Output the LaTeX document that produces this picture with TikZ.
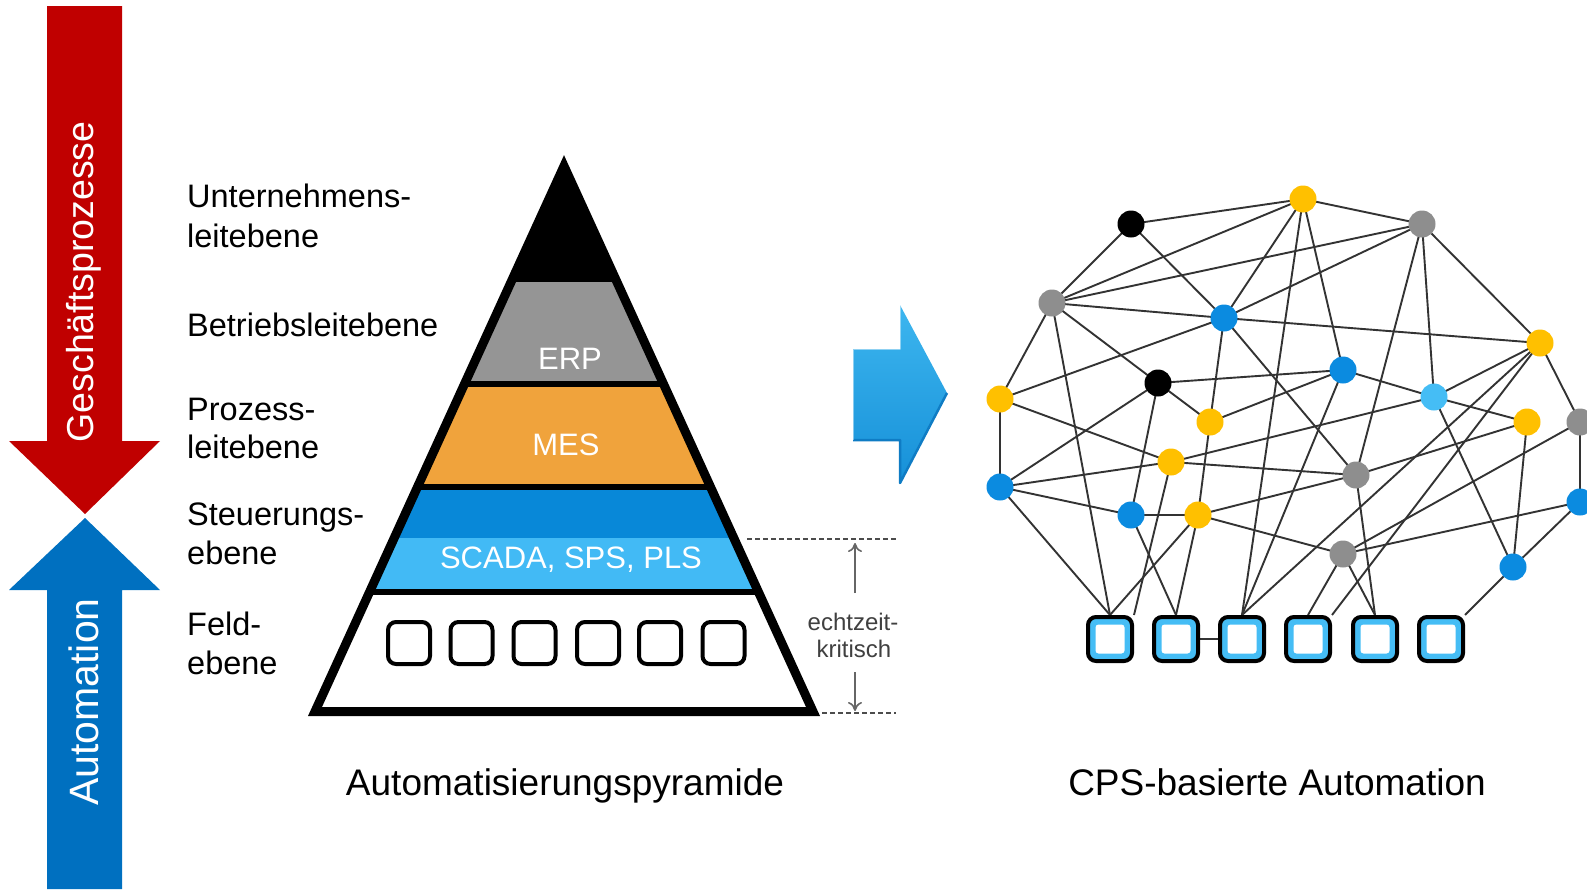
\documentclass[tikz,border=0pt]{standalone}
\usepackage{fontspec}
\setmainfont{Liberation Sans}
\usetikzlibrary{arrows.meta}
\pgfdeclarelayer{bg}
\pgfsetlayers{bg,main}
\definecolor{redA}{HTML}{C00000}
\definecolor{blueA}{HTML}{0070C0}
\definecolor{pgray}{HTML}{959595}
\definecolor{porange}{HTML}{F0A33C}
\definecolor{pdblue}{HTML}{0888D8}
\definecolor{plblue}{HTML}{42BAF5}
\definecolor{nyel}{HTML}{FFC000}
\definecolor{ngray}{HTML}{8E8E8E}
\definecolor{nblue}{HTML}{0B8BE0}
\definecolor{nlblue}{HTML}{45BDF5}
\definecolor{echt}{HTML}{404040}
\definecolor{arrL}{HTML}{3DB6EF}
\definecolor{arrD}{HTML}{1690D8}
\definecolor{arrE}{HTML}{0F7CC4}
\tikzset{
  lbl/.style={anchor=base west, inner sep=0, font=\fontsize{32.5}{39}\selectfont},
  band/.style={anchor=base, inner sep=0, text=white, font=\fontsize{31}{36}\selectfont},
  captxt/.style={anchor=base, inner sep=0, font=\fontsize{37}{42}\selectfont},
  vert/.style={rotate=90, text=white, inner sep=0},
  fbox/.style={draw=black, line width=4, fill=white, rounded corners=8, minimum size=42, inner sep=0},
  nd/.style={circle, minimum size=27, inner sep=0},
  sqo/.style={draw=black, line width=4, fill=nlblue, rounded corners=8, minimum size=44, inner sep=0},
  sqi/.style={fill=white, rounded corners=3, minimum size=29, inner sep=0},
  edge/.style={draw=black!80, line width=1.9},
  dash line/.style={draw=black!70, dashed, dash pattern=on 5pt off 3pt, line width=1.6},
  rt/.style={draw=black!60, line width=1.6, -{To[length=9pt,width=14pt]}},
  echtxt/.style={anchor=base, inner sep=0, text=echt, font=\fontsize{24}{28}\selectfont}
}
\begin{document}
\begin{tikzpicture}[x=1pt,y=-1pt]
\path[use as bounding box] (0,0) rectangle (1587,889);
\begin{pgfonlayer}{bg}
\fill[white] (0,0) rectangle (1587,889);
\end{pgfonlayer}
\clip (0,0) rectangle (1587,889);

% left arrows
\fill[redA] (47,6) -- (122,6) -- (122,441) -- (160,441) -- (85,514) -- (9,441) -- (47,441) -- cycle;
\fill[blueA] (85,518) -- (160,590) -- (122,590) -- (122,889) -- (47,889) -- (47,590) -- (9,590) -- cycle;
\node[vert, font=\fontsize{37.5}{40}\selectfont] (gp) at (84,282) {Geschäftsprozesse};
\node[vert, font=\fontsize{41}{44}\selectfont] (au) at (84,702) {Automation};

% pyramid
\begin{scope}
  \clip (564,166) -- (813,711.5) -- (315,711.5) -- cycle;
  \fill[black] (290,140) rectangle (840,282);
  \fill[pgray] (290,282) rectangle (840,384);
  \fill[porange] (290,384) rectangle (840,487);
  \fill[pdblue] (290,487) rectangle (840,538);
  \fill[plblue] (290,538) rectangle (840,592);
  \fill[white] (290,592) rectangle (840,712);
  \draw[line width=6] (290,384) -- (840,384);
  \draw[line width=6] (290,487) -- (840,487);
  \draw[line width=6] (290,592) -- (840,592);
\end{scope}
\draw[line width=9, line join=miter] (564,166) -- (813,711.5) -- (315,711.5) -- cycle;
\node[band] (erp) at (570,369) {ERP};
\node[band] (mes) at (566,455) {MES};
\node[band] (scada) at (571,568) {SCADA, SPS, PLS};
\foreach \i/\x in {1/409,2/471.5,3/534.5,4/598,5/660,6/723.5}
  \node[fbox] (f\i) at (\x,643) {};

% level labels
\node[lbl] (l1a) at (187,207.5) {Unternehmens-};
\node[lbl] (l1b) at (187,247) {leitebene};
\node[lbl] (l2) at (187,336) {Betriebsleitebene};
\node[lbl] (l3a) at (187,420) {Prozess-};
\node[lbl] (l3b) at (187,458) {leitebene};
\node[lbl] (l4a) at (187,525) {Steuerungs-};
\node[lbl] (l4b) at (187,564) {ebene};
\node[lbl] (l5a) at (187,635.5) {Feld-};
\node[lbl] (l5b) at (187,674) {ebene};

% echtzeitkritisch
\coordinate (d1a) at (747,539);
\coordinate (d1b) at (896,539);
\coordinate (d2a) at (822,713);
\coordinate (d2b) at (896,713);
\draw[dash line] (d1a) -- (d1b);
\draw[dash line] (d2a) -- (d2b);
\node[echtxt] (e1) at (853,630) {echtzeit-};
\node[echtxt] (e2) at (854,657) {kritisch};
\coordinate (u0) at (855,593);
\coordinate (u1) at (855,543);
\coordinate (w0) at (855,672);
\coordinate (w1) at (855,711);
\draw[rt] (u0) -- (u1);
\draw[rt] (w0) -- (w1);

% captions
\node[captxt] (c1) at (565,795) {Automatisierungspyramide};
\node[captxt] (c2) at (1277,795) {CPS-basierte Automation};

% middle arrow
\shade[top color=arrL, bottom color=arrD]
  (853,349) -- (900,349) -- (900,305) -- (947,393) -- (900,483) -- (900,440) -- (853,440) -- cycle;
\draw[arrE, line width=2.5, line join=round] (853,440) -- (900,440) -- (900,483) -- (947,393);
\draw[white, opacity=0.45, line width=2.5, line join=round] (853,440) -- (853,349) -- (900,349) -- (900,305);

% network nodes
\node[nd, fill=black] (B1) at (1131,224) {};
\node[nd, fill=ngray] (G1) at (1052,303) {};
\node[nd, fill=nblue] (C1) at (1224,318) {};
\node[nd, fill=black] (B2) at (1158,383) {};
\node[nd, fill=nyel] (Y1) at (1000,399) {};
\node[nd, fill=nyel] (Y2) at (1210,422) {};
\node[nd, fill=nyel] (Y3) at (1171,462) {};
\node[nd, fill=nyel] (Y4) at (1303,199) {};
\node[nd, fill=ngray] (G2) at (1422,224) {};
\node[nd, fill=nyel] (Y5) at (1540,343) {};
\node[nd, fill=nblue] (C2) at (1343,370) {};
\node[nd, fill=nlblue] (L1) at (1434,397) {};
\node[nd, fill=nyel] (Y6) at (1527,422) {};
\node[nd, fill=ngray] (G3) at (1580,422) {};
\node[nd, fill=nblue] (C3) at (1000,487) {};
\node[nd, fill=nblue] (C4) at (1131,515) {};
\node[nd, fill=nyel] (Y7) at (1198,515) {};
\node[nd, fill=ngray] (G4) at (1356,475) {};
\node[nd, fill=ngray] (G5) at (1343,554) {};
\node[nd, fill=nblue] (C5) at (1513,567) {};
\node[nd, fill=nblue] (C6) at (1580,502) {};
\foreach \i/\x in {1/1110,2/1176,3/1242,4/1308,5/1375,6/1441}{
  \node[sqo] (S\i) at (\x,639) {};
  \node[sqi] (S\i i) at (\x,639) {};
}

\begin{pgfonlayer}{bg}
\foreach \a/\b in {B1/Y4,B1/G1,B1/C1,G1/Y4,G1/G2,G1/C1,G1/B2,G1/Y1,
  Y1/C1,Y1/Y3,Y1/C3,C3/B2,C3/Y3,C3/C4,B2/Y2,B2/C2,B2/C4,
  C1/Y4,C1/Y5,C1/G2,C1/Y2,C1/G4,Y4/G2,Y4/C2,Y2/C2,Y2/Y7,C2/L1,
  G2/Y5,G2/L1,G2/G4,Y5/G3,Y5/L1,L1/Y6,L1/C5,L1/Y3,G3/C6,G3/G5,
  C6/C5,C6/G5,C5/Y6,G4/Y6,G4/Y3,G4/Y7,G5/Y7,Y7/C4}
  \draw[edge] (\a.center) -- (\b.center);
\foreach \a/\b in {G1/S1,C3/S1,Y7/S1,Y7/S2,C4/S2,Y4/S3,C2/S3,Y5/S3,G5/S4,G4/S5,G5/S5}
  \draw[edge] (\a.center) -- (\b.north);
\draw[edge] (Y3.center) -- (S1.north east);
\draw[edge] (Y5.center) -- (S4.north east);
\draw[edge] (C5.center) -- (S6.north east);
\draw[edge] (S2) -- (S3);
\end{pgfonlayer}
\end{tikzpicture}
\end{document}
